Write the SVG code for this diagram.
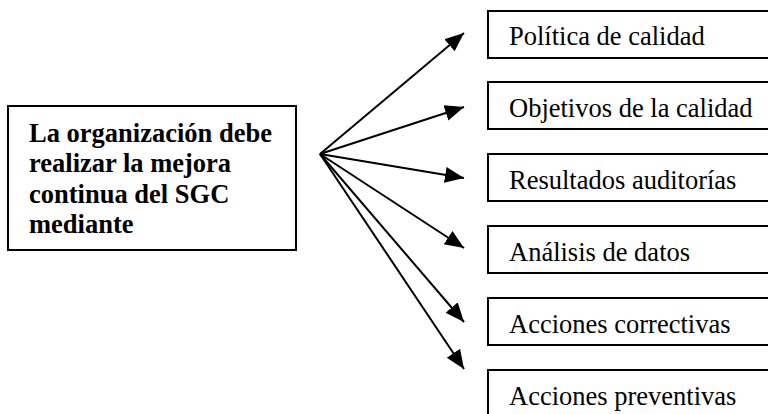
<svg xmlns="http://www.w3.org/2000/svg" width="768" height="414" viewBox="0 0 768 414">
  <style>
    .box { fill: #fff; stroke: #000; stroke-width: 2; }
    .lbl { font-family: "Liberation Serif", "Times New Roman", serif; font-size: 26.5px; fill: #000; }
    .bold { font-weight: bold; }
    .conn { stroke: #000; stroke-width: 2; fill: none; marker-end: url(#arrow); }
  </style>
  <defs>
    <marker id="arrow" markerUnits="userSpaceOnUse" markerWidth="22" markerHeight="18" refX="19" refY="8" orient="auto">
      <path d="M0,0 L19,8 L0,16 Z" fill="#000"/>
    </marker>
  </defs>
  <rect width="768" height="414" fill="#fff"/>

  <g id="source">
    <rect class="box" x="8" y="106" width="288" height="144"/>
    <text class="lbl bold" x="29" y="142">La organización debe</text>
    <text class="lbl bold" x="29" y="172">realizar la mejora</text>
    <text class="lbl bold" x="29" y="203">continua del SGC</text>
    <text class="lbl bold" x="29" y="233">mediante</text>
  </g>

  <g id="connectors">
    <line class="conn" x1="320" y1="154" x2="464" y2="33"/>
    <line class="conn" x1="320" y1="154" x2="464" y2="107"/>
    <line class="conn" x1="320" y1="154" x2="464" y2="178"/>
    <line class="conn" x1="320" y1="154" x2="464" y2="248"/>
    <line class="conn" x1="320" y1="154" x2="464" y2="322"/>
    <line class="conn" x1="320" y1="154" x2="464" y2="369"/>
  </g>

  <g id="politica">
    <rect class="box" x="488" y="11" width="300" height="47"/>
    <text class="lbl" x="509" y="45">Política de calidad</text>
  </g>
  <g id="objetivos">
    <rect class="box" x="488" y="82" width="300" height="47"/>
    <text class="lbl" x="509" y="117">Objetivos de la calidad</text>
  </g>
  <g id="auditorias">
    <rect class="box" x="488" y="154" width="300" height="47"/>
    <text class="lbl" x="509" y="189">Resultados auditorías</text>
  </g>
  <g id="datos">
    <rect class="box" x="488" y="226" width="300" height="47"/>
    <text class="lbl" x="509" y="261">Análisis de datos</text>
  </g>
  <g id="correctivas">
    <rect class="box" x="488" y="298" width="300" height="47"/>
    <text class="lbl" x="509" y="333">Acciones correctivas</text>
  </g>
  <g id="preventivas">
    <rect class="box" x="488" y="370" width="300" height="47"/>
    <text class="lbl" x="509" y="405">Acciones preventivas</text>
  </g>
</svg>
